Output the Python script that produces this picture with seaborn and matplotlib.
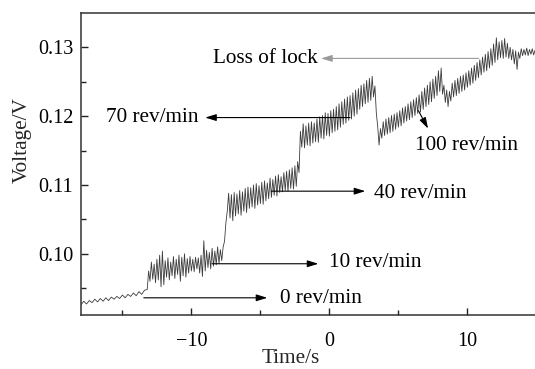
import matplotlib
matplotlib.use("Agg")
import matplotlib.pyplot as plt
import seaborn as sns
import pandas as pd

# ---- data: (time s, voltage V), segment by segment ----
seg_0rpm = [(-18.0, 0.0926), (-17.8, 0.0931), (-17.6, 0.0927), (-17.4, 0.0932), (-17.2, 0.0929),
            (-17.0, 0.0934), (-16.8, 0.0930), (-16.6, 0.0935), (-16.4, 0.0931), (-16.2, 0.0936),
            (-16.0, 0.0932), (-15.8, 0.0937), (-15.6, 0.0934), (-15.4, 0.0938), (-15.2, 0.0935),
            (-15.0, 0.0940), (-14.8, 0.0936), (-14.6, 0.0941), (-14.4, 0.0938), (-14.2, 0.0943),
            (-14.0, 0.0939), (-13.8, 0.0945), (-13.6, 0.0941), (-13.4, 0.0947)]
seg_10rpm = [(-13.2, 0.0948), (-13.1, 0.0975), (-13.0, 0.0960), (-12.9, 0.0988), (-12.8, 0.0963),
             (-12.7, 0.0985), (-12.6, 0.0958), (-12.5, 0.0992), (-12.4, 0.0962), (-12.3, 0.0998),
             (-12.2, 0.0952), (-12.1, 0.1004), (-12.0, 0.0955), (-11.9, 0.0990), (-11.8, 0.0966),
             (-11.7, 0.0994), (-11.6, 0.0962), (-11.5, 0.0988), (-11.4, 0.0968), (-11.3, 0.0996),
             (-11.2, 0.0964), (-11.1, 0.0992), (-11.0, 0.0970), (-10.9, 0.0998), (-10.8, 0.0960),
             (-10.7, 0.0995), (-10.6, 0.0968), (-10.5, 0.1000), (-10.4, 0.0966), (-10.3, 0.0993),
             (-10.2, 0.0972), (-10.1, 0.0996), (-10.0, 0.0975), (-9.9, 0.0992), (-9.8, 0.0974),
             (-9.7, 0.0995), (-9.6, 0.0978), (-9.5, 0.0994), (-9.4, 0.0972), (-9.3, 0.0998),
             (-9.2, 0.0967), (-9.1, 0.1019), (-9.0, 0.0975), (-8.9, 0.1005), (-8.8, 0.0980),
             (-8.7, 0.1002), (-8.6, 0.0978), (-8.5, 0.1008), (-8.4, 0.0982), (-8.3, 0.1004),
             (-8.2, 0.0984), (-8.1, 0.1010), (-8.0, 0.0986), (-7.9, 0.1006), (-7.8, 0.0990)]
seg_40rpm = [(-7.7, 0.1010), (-7.6, 0.1018), (-7.5, 0.1045), (-7.4, 0.1062), (-7.3, 0.1088),
             (-7.2, 0.1052), (-7.1, 0.1086), (-7.0, 0.1048), (-6.9, 0.1089), (-6.8, 0.1055),
             (-6.7, 0.1087), (-6.6, 0.1058), (-6.5, 0.1092), (-6.4, 0.1056), (-6.3, 0.1090),
             (-6.2, 0.1062), (-6.1, 0.1095), (-6.0, 0.1060), (-5.9, 0.1097), (-5.8, 0.1066),
             (-5.7, 0.1096), (-5.6, 0.1068), (-5.5, 0.1100), (-5.4, 0.1066), (-5.3, 0.1102),
             (-5.2, 0.1071), (-5.1, 0.1099), (-5.0, 0.1073), (-4.9, 0.1104), (-4.8, 0.1072),
             (-4.7, 0.1106), (-4.6, 0.1077), (-4.5, 0.1103), (-4.4, 0.1080), (-4.3, 0.1110),
             (-4.2, 0.1082), (-4.1, 0.1108), (-4.0, 0.1085), (-3.9, 0.1113), (-3.8, 0.1084),
             (-3.7, 0.1115), (-3.6, 0.1089), (-3.5, 0.1112), (-3.4, 0.1090), (-3.3, 0.1118),
             (-3.2, 0.1092), (-3.1, 0.1120), (-3.0, 0.1091), (-2.9, 0.1122), (-2.8, 0.1095),
             (-2.7, 0.1125), (-2.6, 0.1094), (-2.5, 0.1128), (-2.4, 0.1098), (-2.3, 0.1134)]
seg_70rpm = [(-2.2, 0.1118), (-2.15, 0.1150), (-2.1, 0.1178),
             (-2.0, 0.1155), (-1.9, 0.1189), (-1.8, 0.1154), (-1.7, 0.1186), (-1.6, 0.1158),
             (-1.5, 0.1190), (-1.4, 0.1157), (-1.3, 0.1192), (-1.2, 0.1161), (-1.1, 0.1190),
             (-1.0, 0.1163), (-0.9, 0.1196), (-0.8, 0.1162), (-0.7, 0.1199), (-0.6, 0.1168),
             (-0.5, 0.1201), (-0.4, 0.1167), (-0.3, 0.1205), (-0.2, 0.1172), (-0.1, 0.1204),
             (0.0, 0.1171), (0.1, 0.1208), (0.2, 0.1176), (0.3, 0.1210), (0.4, 0.1178),
             (0.5, 0.1214), (0.6, 0.1180), (0.7, 0.1218), (0.8, 0.1184), (0.9, 0.1221),
             (1.0, 0.1188), (1.1, 0.1225), (1.2, 0.1190), (1.3, 0.1228), (1.4, 0.1194),
             (1.5, 0.1230), (1.6, 0.1196), (1.7, 0.1234), (1.8, 0.1200), (1.9, 0.1238),
             (2.0, 0.1203), (2.1, 0.1240), (2.2, 0.1210), (2.3, 0.1245), (2.4, 0.1214),
             (2.5, 0.1247), (2.6, 0.1218), (2.7, 0.1252), (2.8, 0.1220), (2.9, 0.1255),
             (3.0, 0.1223), (3.1, 0.1258), (3.2, 0.1228), (3.3, 0.1244), (3.4, 0.1205),
             (3.5, 0.1185), (3.6, 0.1158), (3.7, 0.1182)]
seg_100rpm = [(3.8, 0.1168), (3.9, 0.1192), (4.0, 0.1172), (4.1, 0.1196), (4.2, 0.1174),
              (4.3, 0.1198), (4.4, 0.1176), (4.5, 0.1201), (4.6, 0.1178), (4.7, 0.1203),
              (4.8, 0.1181), (4.9, 0.1205), (5.0, 0.1184), (5.1, 0.1208), (5.2, 0.1186),
              (5.3, 0.1212), (5.4, 0.1190), (5.5, 0.1214), (5.6, 0.1193), (5.7, 0.1218),
              (5.8, 0.1195), (5.9, 0.1221), (6.0, 0.1198), (6.1, 0.1224), (6.2, 0.1201),
              (6.3, 0.1227), (6.4, 0.1204), (6.5, 0.1231), (6.6, 0.1206), (6.7, 0.1236),
              (6.8, 0.1210), (6.9, 0.1241), (7.0, 0.1214), (7.1, 0.1245), (7.2, 0.1217),
              (7.3, 0.1250), (7.4, 0.1221), (7.5, 0.1254), (7.6, 0.1226), (7.7, 0.1258),
              (7.8, 0.1230), (7.9, 0.1266), (8.0, 0.1236), (8.1, 0.1270), (8.2, 0.1232),
              (8.3, 0.1245), (8.4, 0.1220), (8.5, 0.1238), (8.6, 0.1214), (8.7, 0.1236),
              (8.8, 0.1222), (8.9, 0.1248), (9.0, 0.1228), (9.1, 0.1252), (9.2, 0.1230),
              (9.3, 0.1255), (9.4, 0.1233), (9.5, 0.1258), (9.6, 0.1236), (9.7, 0.1260),
              (9.8, 0.1238), (9.9, 0.1263), (10.0, 0.1242), (10.1, 0.1266), (10.2, 0.1245),
              (10.3, 0.1270), (10.4, 0.1248), (10.5, 0.1274), (10.6, 0.1252), (10.7, 0.1278),
              (10.8, 0.1256)]
seg_unlock = [(10.9, 0.1282), (11.0, 0.1260), (11.1, 0.1286), (11.2, 0.1264), (11.3, 0.1290),
              (11.4, 0.1266), (11.5, 0.1294), (11.6, 0.1270), (11.7, 0.1298), (11.8, 0.1274),
              (11.9, 0.1305), (12.0, 0.1278), (12.1, 0.1314), (12.2, 0.1282), (12.3, 0.1308),
              (12.4, 0.1285), (12.5, 0.1310), (12.6, 0.1284), (12.7, 0.1313), (12.8, 0.1286),
              (12.9, 0.1306), (13.0, 0.1284), (13.1, 0.1300), (13.2, 0.1282), (13.3, 0.1297),
              (13.4, 0.1276), (13.5, 0.1295), (13.6, 0.1268), (13.7, 0.1293), (13.8, 0.1284),
              (13.9, 0.1298), (14.0, 0.1288), (14.1, 0.1297), (14.2, 0.1289), (14.3, 0.1299),
              (14.4, 0.1288), (14.5, 0.1297), (14.6, 0.1290), (14.7, 0.1298), (14.8, 0.1289),
              (14.9, 0.1296)]

# annotations: label, arrow tail (t, V), arrow head (t, V), text anchor (t, V)
ann_labels = ["Loss of lock", "70 rev/min", "40 rev/min", "10 rev/min", "0 rev/min", "100 rev/min"]
ann_tail = [(10.8, 0.1284), (1.5, 0.1198), (-4.2, 0.1091), (-8.5, 0.09855), (-13.45, 0.0936), (6.45, 0.1208)]
ann_head = [(-0.6, 0.1284), (-9.0, 0.1198), (2.6, 0.1091), (-0.8, 0.09855), (-4.5, 0.0936), (7.15, 0.1182)]
ann_text = [(-0.85, 0.1284), (-9.45, 0.1198), (3.2, 0.1087), (-0.05, 0.0987), (-3.6, 0.0935), (6.2, 0.1157)]
ann_ha = ["right", "right", "left", "left", "left", "left"]
ann_color = ["#9a9a9a", "black", "black", "black", "black", "black"]

x_ticks = [-10, 0, 10]
x_tick_labels = ["\u221210", "0", "10"]
y_ticks = [0.10, 0.11, 0.12, 0.13]
y_tick_labels = ["0.10", "0.11", "0.12", "0.13"]

# ---- build frame ----
pts = seg_0rpm + seg_10rpm + seg_40rpm + seg_70rpm + seg_100rpm + seg_unlock
df = pd.DataFrame(pts, columns=["Time/s", "Voltage/V"])

sns.set_theme(style="ticks")
plt.rcParams["font.family"] = ["Liberation Serif", "DejaVu Serif"]

fig = plt.figure(figsize=(5.35, 3.69), dpi=100)
ax = fig.add_axes([81 / 535, 1 - 315 / 369, 1 - 81 / 535, (315 - 13) / 369])

sns.lineplot(data=df, x="Time/s", y="Voltage/V", ax=ax, color="#3c3c3c",
             linewidth=0.6, estimator=None, sort=False)

FS_TICK = 14.5
FS_ANN = 15.3
for lab, tail, head, txt, ha, col in zip(ann_labels, ann_tail, ann_head, ann_text, ann_ha, ann_color):
    ax.annotate("", xy=head, xytext=tail,
                arrowprops=dict(arrowstyle="-|>,head_length=0.55,head_width=0.17",
                                color=col, lw=0.8, shrinkA=0, shrinkB=0))
    ax.text(txt[0], txt[1], lab, ha=ha, va="center", fontsize=FS_ANN, color="black")

ax.set_xlim(-18.0, 14.9)
ax.set_ylim(0.0911, 0.1350)
ax.set_xticks(x_ticks)
ax.set_xticklabels(x_tick_labels)
ax.set_yticks(y_ticks)
ax.set_yticklabels(y_tick_labels)
ax.set_xticks([-15, -5, 5], minor=True)
ax.set_yticks([0.095, 0.105, 0.115, 0.125], minor=True)
ax.tick_params(axis="both", which="major", direction="in", length=5, width=1.0,
               labelsize=FS_TICK, colors="#222222", labelcolor="black")
ax.tick_params(axis="x", which="major", pad=12)
ax.tick_params(axis="y", which="major", pad=5.5)
ax.tick_params(axis="both", which="minor", direction="in", length=3.5, width=1.0,
               colors="#222222")
ax.set_xlabel("Time/s", fontsize=FS_ANN)
ax.set_ylabel("Voltage/V", fontsize=FS_ANN)
ax.xaxis.set_label_coords(0.4626, -0.1126)
ax.yaxis.set_label_coords(-0.108, 0.5795)

for s in ["left", "bottom", "top"]:
    ax.spines[s].set_visible(True)
    ax.spines[s].set_linewidth(1.1)
    ax.spines[s].set_color("#333333")
ax.spines["right"].set_visible(False)

fig.savefig("out.png", dpi=100)
